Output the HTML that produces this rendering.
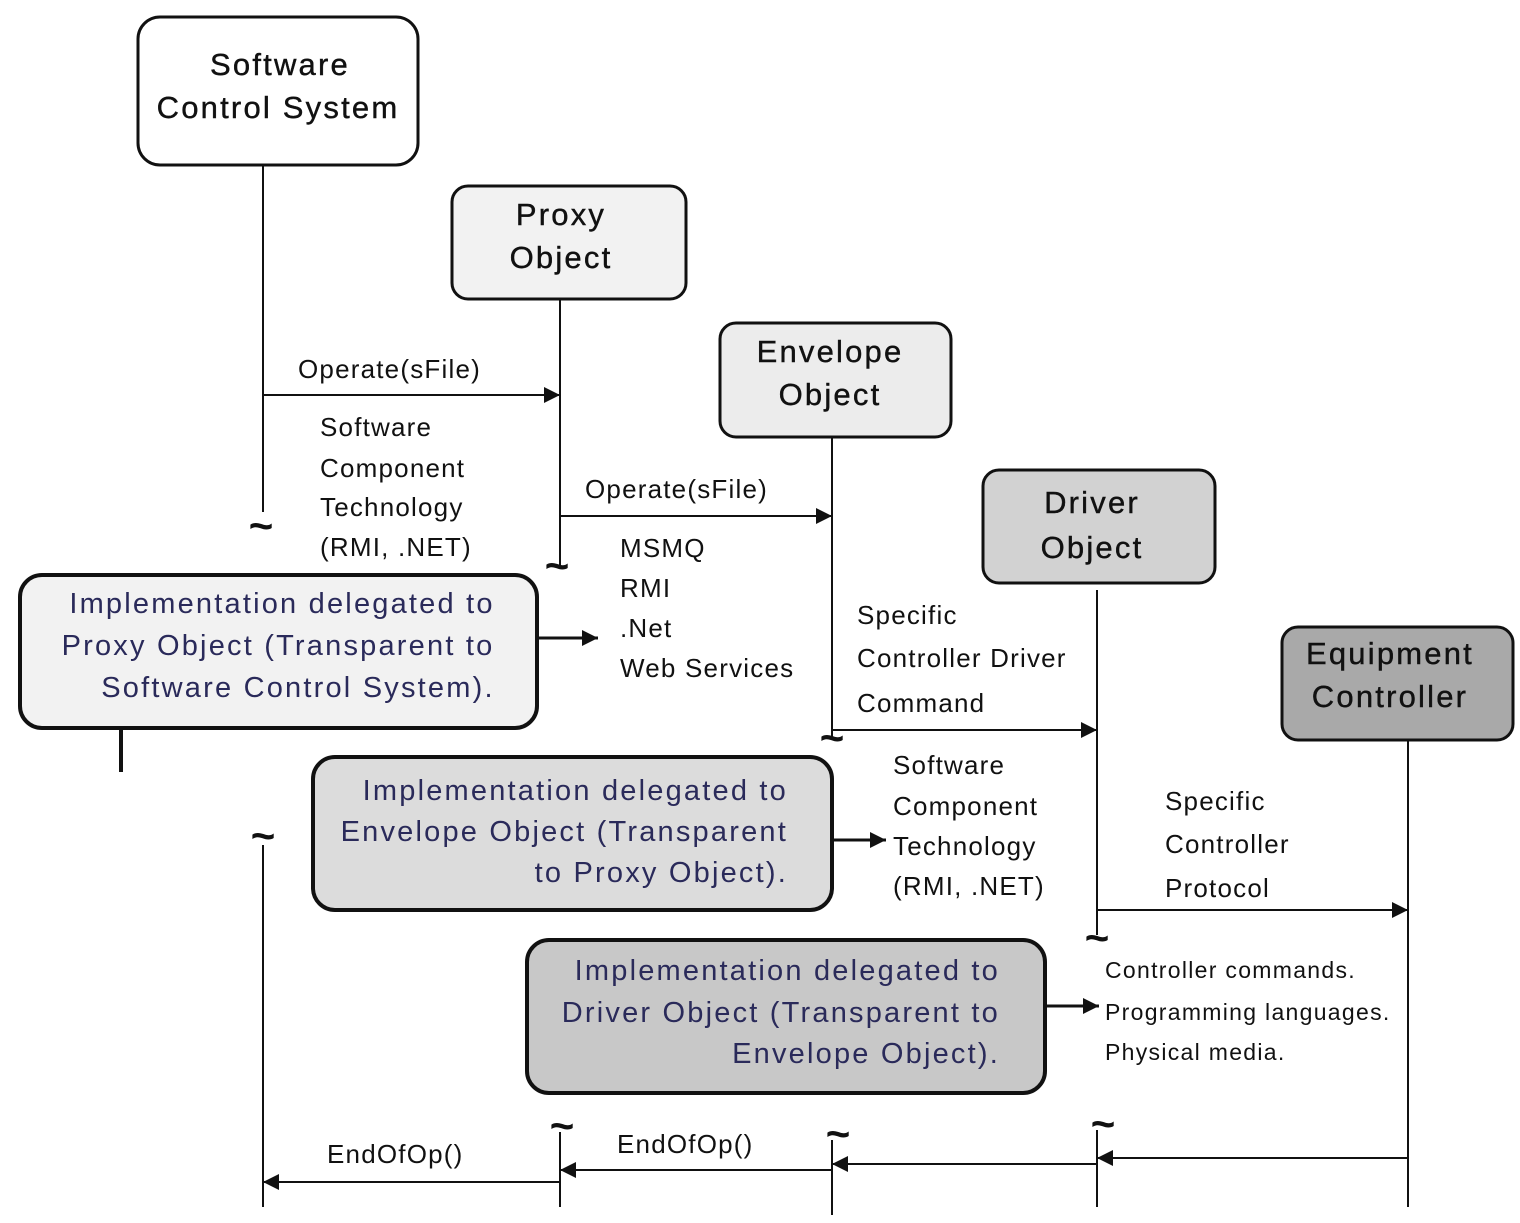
<!DOCTYPE html>
<html><head><meta charset="utf-8"><style>
html,body{margin:0;padding:0;background:#fff}
svg{display:block}
text{font-family:"Liberation Sans",sans-serif;fill:#111}
.b{font-size:31px;letter-spacing:2.2px;fill:#111;stroke:#111;stroke-width:0.4px}
.m{font-size:26px;letter-spacing:1.2px}
.d{font-size:29px;fill:#2a2a5a;letter-spacing:2.2px}
.s{font-size:23px;letter-spacing:1.3px}
.t{font-size:42px;font-weight:bold}
</style></head><body>
<svg width="1520" height="1223" viewBox="0 0 1520 1223" xmlns="http://www.w3.org/2000/svg">
<defs>
<marker id="A" viewBox="0 0 10 10" refX="10" refY="5" markerWidth="20" markerHeight="16" orient="auto" markerUnits="userSpaceOnUse"><path d="M0,0L10,5L0,10z" fill="#111"/></marker></defs>
<g stroke="#111" stroke-width="3">
<rect x="138" y="17" width="280" height="148" rx="22" fill="#fff"/>
<rect x="452" y="186" width="234" height="113" rx="16" fill="#f2f2f2"/>
<rect x="720" y="323" width="231" height="114" rx="16" fill="#ececec"/>
<rect x="983" y="470" width="232" height="113" rx="16" fill="#d2d2d2"/>
<rect x="1282" y="627" width="231" height="113" rx="16" fill="#a9a9a9"/>
</g>
<g stroke="#111" stroke-width="4">
<rect x="20" y="575" width="517" height="153" rx="22" fill="#f2f2f2"/>
<rect x="313" y="757" width="519" height="153" rx="22" fill="#dcdcdc"/>
<rect x="527" y="940" width="518" height="153" rx="22" fill="#c8c8c8"/>
<line x1="121" y1="730" x2="121" y2="772"/>
</g>
<g stroke="#111" stroke-width="2" fill="none">
<line x1="263" y1="165" x2="263" y2="512"/>
<line x1="263" y1="845" x2="263" y2="1207"/>
<line x1="560" y1="299" x2="560" y2="565"/>
<line x1="560" y1="1132" x2="560" y2="1207"/>
<line x1="832" y1="437" x2="832" y2="738"/>
<line x1="832" y1="1140" x2="832" y2="1215"/>
<line x1="1097" y1="590" x2="1097" y2="935"/>
<line x1="1097" y1="1130" x2="1097" y2="1207"/>
<line x1="1408" y1="740" x2="1408" y2="1207"/>
</g>
<g stroke="#111" stroke-width="2" marker-end="url(#A)">
<line x1="263" y1="395" x2="560" y2="395"/>
<line x1="560" y1="516" x2="832" y2="516"/>
<line x1="832" y1="730" x2="1097" y2="730"/>
<line x1="1097" y1="910" x2="1408" y2="910"/>
<line x1="1408" y1="1158" x2="1097" y2="1158"/>
<line x1="1097" y1="1164" x2="832" y2="1164"/>
<line x1="832" y1="1170" x2="560" y2="1170"/>
<line x1="560" y1="1182" x2="263" y2="1182"/>
<line x1="537" y1="638" x2="598" y2="638" stroke-width="3"/>
<line x1="832" y1="840" x2="886" y2="840" stroke-width="3"/>
<line x1="1045" y1="1006" x2="1099" y2="1006" stroke-width="3"/>
</g>
<g text-anchor="middle">
<text x="261" y="540" class="t">~</text>
<text x="263" y="850" class="t">~</text>
<text x="557" y="580" class="t">~</text>
<text x="562" y="1140" class="t">~</text>
<text x="832" y="752" class="t">~</text>
<text x="838" y="1148" class="t">~</text>
<text x="1097" y="952" class="t">~</text>
<text x="1103" y="1138" class="t">~</text>
</g>
<g text-anchor="middle">
<text x="280" y="75" class="b">Software</text>
<text x="278" y="118" class="b">Control  System</text>
<text x="561" y="225" class="b">Proxy</text>
<text x="561" y="268" class="b">Object</text>
<text x="830" y="362" class="b">Envelope</text>
<text x="830" y="405" class="b">Object</text>
<text x="1092" y="513" class="b">Driver</text>
<text x="1092" y="558" class="b">Object</text>
<text x="1390" y="664" class="b">Equipment</text>
<text x="1390" y="707" class="b">Controller</text>
</g>
<g>
<text x="298" y="378" class="m">Operate(sFile)</text>
<text x="585" y="498" class="m">Operate(sFile)</text>
<text x="320" y="436" class="m">Software</text>
<text x="320" y="477" class="m">Component</text>
<text x="320" y="516" class="m">Technology</text>
<text x="320" y="556" class="m">(RMI,  .NET)</text>
<text x="620" y="557" class="m">MSMQ</text>
<text x="620" y="597" class="m">RMI</text>
<text x="620" y="637" class="m">.Net</text>
<text x="620" y="677" class="m">Web Services</text>
<text x="857" y="624" class="m">Specific</text>
<text x="857" y="667" class="m">Controller Driver</text>
<text x="857" y="712" class="m">Command</text>
<text x="893" y="774" class="m">Software</text>
<text x="893" y="815" class="m">Component</text>
<text x="893" y="855" class="m">Technology</text>
<text x="893" y="895" class="m">(RMI,  .NET)</text>
<text x="1165" y="810" class="m">Specific</text>
<text x="1165" y="853" class="m">Controller</text>
<text x="1165" y="897" class="m">Protocol</text>
<text x="1105" y="978" class="s">Controller  commands.</text>
<text x="1105" y="1020" class="s">Programming  languages.</text>
<text x="1105" y="1060" class="s">Physical  media.</text>
<text x="327" y="1163" class="m">EndOfOp()</text>
<text x="617" y="1153" class="m">EndOfOp()</text>
</g>
<g text-anchor="middle">
<text x="282" y="613" class="d">Implementation  delegated to</text>
<text x="278" y="655" class="d">Proxy Object (Transparent  to</text>
<text x="298" y="697" class="d">Software Control System).</text>
</g>
<g text-anchor="end">
<text x="788" y="800" class="d">Implementation  delegated to</text>
<text x="788" y="841" class="d">Envelope Object (Transparent</text>
<text x="788" y="882" class="d">to Proxy Object).</text>
<text x="1000" y="980" class="d">Implementation  delegated to</text>
<text x="1000" y="1022" class="d">Driver Object (Transparent  to</text>
<text x="1000" y="1063" class="d">Envelope Object).</text>
</g>
</svg>
</body></html>
